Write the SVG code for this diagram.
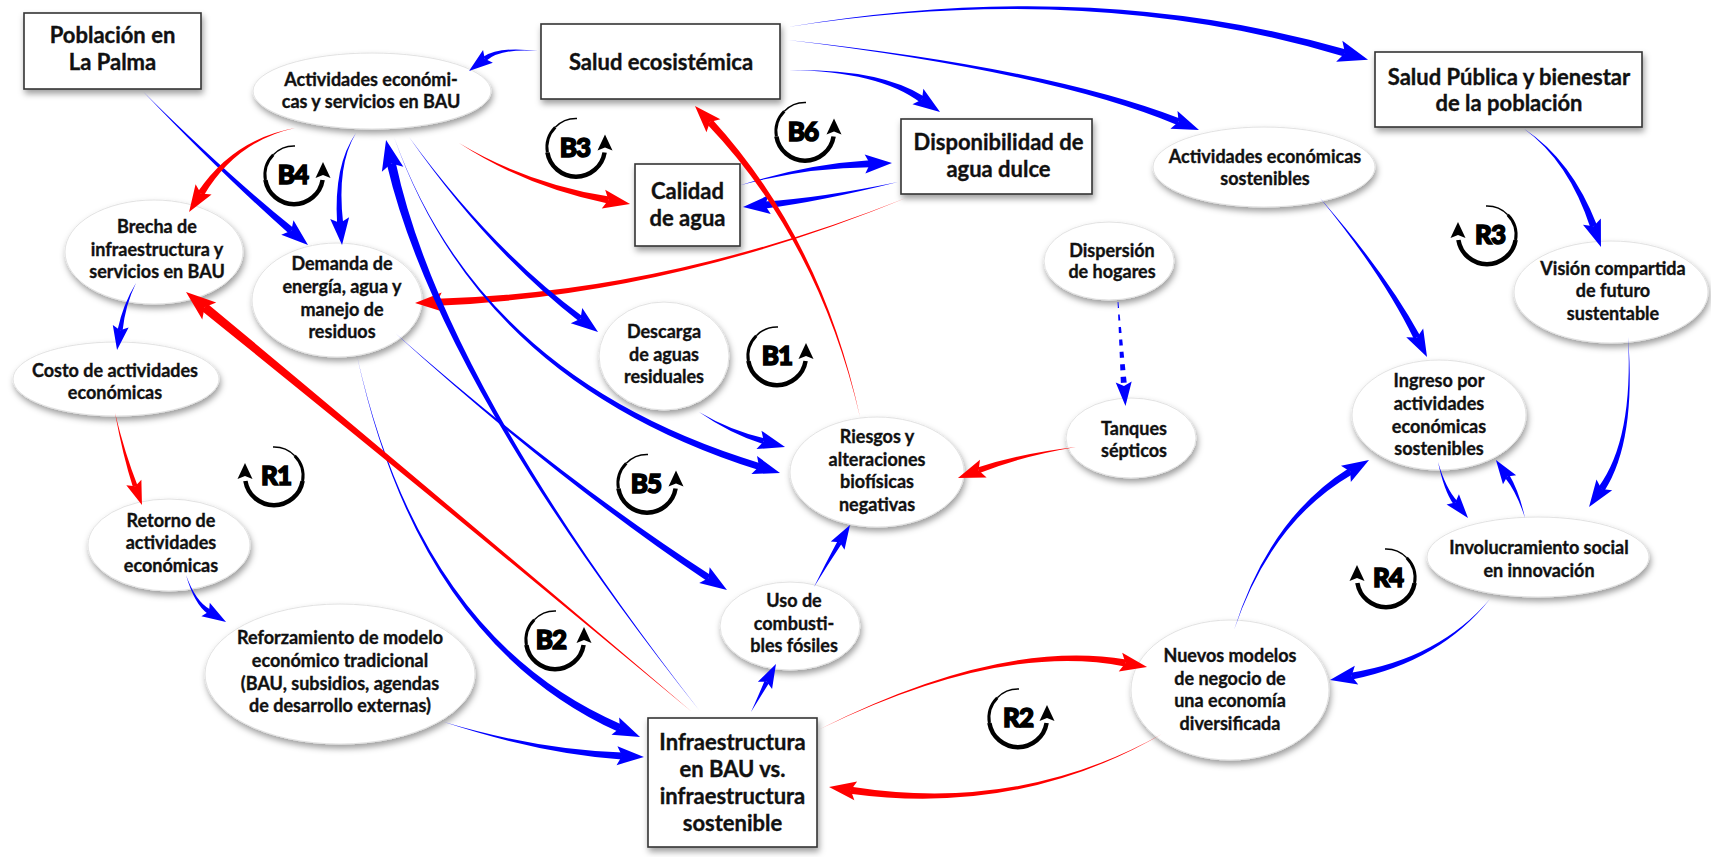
<svg xmlns="http://www.w3.org/2000/svg" width="1711" height="857" viewBox="0 0 1711 857">
<defs>
<style>
.ell{fill:#fff;stroke:#e2e2e2;stroke-width:1;filter:url(#sh)}
.box{fill:#fff;stroke:#333;stroke-width:1.6;filter:url(#sh)}
text{font-family:Lato,"Noto Sans","Liberation Sans",sans-serif;font-weight:700;fill:#111;text-anchor:middle;stroke:#111;stroke-width:0.35px}
.t{font-size:18px}
.tb{font-size:22px}
.lbl{font-size:26px;font-weight:900;letter-spacing:-1px;fill:#000;stroke:#000;stroke-width:1.5px}
.b{fill:#0000ff}
.r{fill:#ff0000}
.m{fill:none;stroke:none}
.lp{fill:none;stroke:#000}
</style>
<filter id="sh" x="-20%" y="-20%" width="140%" height="160%">
<feDropShadow dx="1.5" dy="4" stdDeviation="3" flood-color="#000" flood-opacity="0.38"/>
</filter>
<marker id="bM" viewBox="-6 -10 28 20" markerWidth="28" markerHeight="20" refX="0" refY="0" orient="auto" markerUnits="userSpaceOnUse"><path d="M0,0 L-4,-8 L20,0 L-4,8 Z" fill="#0000ff"/></marker>
<marker id="bL" viewBox="-6 -11 30 22" markerWidth="30" markerHeight="22" refX="0" refY="0" orient="auto" markerUnits="userSpaceOnUse"><path d="M0,0 L-5,-9.5 L22,0 L-5,9.5 Z" fill="#0000ff"/></marker>
<marker id="bX" viewBox="-7 -12 32 24" markerWidth="32" markerHeight="24" refX="0" refY="0" orient="auto" markerUnits="userSpaceOnUse"><path d="M0,0 L-6,-11 L24,0 L-6,11 Z" fill="#0000ff"/></marker>
<marker id="rM" viewBox="-6 -10 28 20" markerWidth="28" markerHeight="20" refX="0" refY="0" orient="auto" markerUnits="userSpaceOnUse"><path d="M0,0 L-4,-8 L20,0 L-4,8 Z" fill="#ff0000"/></marker>
<marker id="rL" viewBox="-6 -11 30 22" markerWidth="30" markerHeight="22" refX="0" refY="0" orient="auto" markerUnits="userSpaceOnUse"><path d="M0,0 L-5,-9.5 L22,0 L-5,9.5 Z" fill="#ff0000"/></marker>
<marker id="rX" viewBox="-7 -12 32 24" markerWidth="32" markerHeight="24" refX="0" refY="0" orient="auto" markerUnits="userSpaceOnUse"><path d="M0,0 L-6,-11 L24,0 L-6,11 Z" fill="#ff0000"/></marker>
<mask id="dm" maskUnits="userSpaceOnUse" x="1100" y="295" width="40" height="100">
<path d="M1118,302 L1124,386" stroke="#fff" stroke-width="14" stroke-dasharray="6 6.5" fill="none"/>
</mask>
<g id="lpB">
<path class="lp" stroke-width="1.5" d="M1,-29 A29,29 0 0 0 -20.7,-20.3"/>
<path class="lp" stroke-width="3" d="M-20.7,-20.3 A29,29 0 0 0 -28.6,5"/>
<path class="lp" stroke-width="4.5" d="M-28.6,5 A29,29 0 0 0 28.6,5"/>
<path d="M29,-13 L36.5,3 L29,0 L21.5,3 Z" fill="#000"/>
</g>
</defs>
<rect width="1711" height="857" fill="#fff"/>

<g id="nodes">
<g id="n-poblacion"><rect class="box" x="24" y="13" width="177" height="76"/><text class="tb" x="112.5" y="43">Población en</text><text class="tb" x="112.5" y="70">La Palma</text></g>
<g id="n-actbau"><ellipse class="ell" cx="372" cy="91" rx="119" ry="38"/><text class="t" x="371" y="86">Actividades económi-</text><text class="t" x="371" y="108">cas y servicios en BAU</text></g>
<g id="n-salud"><rect class="box" x="541" y="24" width="239" height="75"/><text class="tb" x="661" y="70">Salud ecosistémica</text></g>
<g id="n-disponibilidad"><rect class="box" x="901" y="119" width="191" height="75"/><text class="tb" x="998.5" y="150">Disponibilidad de</text><text class="tb" x="998.5" y="177">agua dulce</text></g>
<g id="n-calidad"><rect class="box" x="635" y="164" width="105" height="82"/><text class="tb" x="687.5" y="199">Calidad</text><text class="tb" x="687.5" y="226">de agua</text></g>
<g id="n-saludpublica"><rect class="box" x="1375" y="52" width="267" height="75"/><text class="tb" x="1509" y="85">Salud Pública y bienestar</text><text class="tb" x="1509" y="111">de la población</text></g>
<g id="n-actsost"><ellipse class="ell" cx="1264" cy="167" rx="111" ry="40"/><text class="t" x="1265" y="163">Actividades económicas</text><text class="t" x="1265" y="185">sostenibles</text></g>
<g id="n-vision"><ellipse class="ell" cx="1611" cy="292" rx="97" ry="51"/><text class="t" x="1613" y="275">Visión compartida</text><text class="t" x="1613" y="297">de futuro</text><text class="t" x="1613" y="320">sustentable</text></g>
<g id="n-brecha"><ellipse class="ell" cx="154" cy="252" rx="89" ry="52"/><text class="t" x="157" y="233">Brecha de</text><text class="t" x="157" y="256">infraestructura y</text><text class="t" x="157" y="278">servicios en BAU</text></g>
<g id="n-demanda"><ellipse class="ell" cx="337" cy="300" rx="85" ry="57"/><text class="t" x="342" y="270">Demanda de</text><text class="t" x="342" y="293">energía, agua y</text><text class="t" x="342" y="316">manejo de</text><text class="t" x="342" y="338">residuos</text></g>
<g id="n-costo"><ellipse class="ell" cx="116" cy="379" rx="103" ry="37"/><text class="t" x="115" y="377">Costo de actividades</text><text class="t" x="115" y="399">económicas</text></g>
<g id="n-retorno"><ellipse class="ell" cx="169" cy="545" rx="81" ry="46"/><text class="t" x="171" y="527">Retorno de</text><text class="t" x="171" y="549">actividades</text><text class="t" x="171" y="572">económicas</text></g>
<g id="n-reforzamiento"><ellipse class="ell" cx="340" cy="674" rx="135" ry="70"/><text class="t" x="340" y="644">Reforzamiento de modelo</text><text class="t" x="340" y="667">económico tradicional</text><text class="t" x="340" y="690">(BAU, subsidios, agendas</text><text class="t" x="340" y="712">de desarrollo externas)</text></g>
<g id="n-descarga"><ellipse class="ell" cx="664" cy="356" rx="65" ry="54"/><text class="t" x="664" y="338">Descarga</text><text class="t" x="664" y="361">de aguas</text><text class="t" x="664" y="383">residuales</text></g>
<g id="n-riesgos"><ellipse class="ell" cx="877" cy="472" rx="87" ry="55"/><text class="t" x="877" y="443">Riesgos y</text><text class="t" x="877" y="466">alteraciones</text><text class="t" x="877" y="488">biofísicas</text><text class="t" x="877" y="511">negativas</text></g>
<g id="n-dispersion"><ellipse class="ell" cx="1109" cy="261" rx="65" ry="39"/><text class="t" x="1112" y="257">Dispersión</text><text class="t" x="1112" y="278">de hogares</text></g>
<g id="n-tanques"><ellipse class="ell" cx="1131" cy="438" rx="65" ry="40"/><text class="t" x="1134" y="435">Tanques</text><text class="t" x="1134" y="457">sépticos</text></g>
<g id="n-ingreso"><ellipse class="ell" cx="1439" cy="415" rx="87" ry="55"/><text class="t" x="1439" y="387">Ingreso por</text><text class="t" x="1439" y="410">actividades</text><text class="t" x="1439" y="433">económicas</text><text class="t" x="1439" y="455">sostenibles</text></g>
<g id="n-involucramiento"><ellipse class="ell" cx="1538" cy="557" rx="111" ry="40"/><text class="t" x="1539" y="554">Involucramiento social</text><text class="t" x="1539" y="577">en innovación</text></g>
<g id="n-nuevos"><ellipse class="ell" cx="1230" cy="690" rx="99" ry="70"/><text class="t" x="1230" y="662">Nuevos modelos</text><text class="t" x="1230" y="685">de negocio de</text><text class="t" x="1230" y="707">una economía</text><text class="t" x="1230" y="730">diversificada</text></g>
<g id="n-uso"><ellipse class="ell" cx="790" cy="626" rx="70" ry="44"/><text class="t" x="794" y="607">Uso de</text><text class="t" x="794" y="630">combusti-</text><text class="t" x="794" y="652">bles fósiles</text></g>
<g id="n-infra"><rect class="box" x="648" y="718" width="169" height="129"/><text class="tb" x="732.5" y="750">Infraestructura</text><text class="tb" x="732.5" y="777">en BAU vs.</text><text class="tb" x="732.5" y="804">infraestructura</text><text class="tb" x="732.5" y="831">sostenible</text></g>
</g>

<g id="connectors">
<path class="b" d="M538,51 Q499.2,46 483.3,56.8 L486.3,60.8 Q500.8,48 538,51 Z"/><path class="m" d="M500,47 L484.8,58.8" marker-end="url(#bM)"/>
<path class="b" d="M788,27 Q1089.5,-20.3 1344,56.4 L1346,49.6 Q1090.5,-23.7 788,27 Z"/><path class="m" d="M1090,-22 L1345,53" marker-end="url(#bX)"/>
<path class="b" d="M788,40 Q1049.3,71.6 1177.3,125 L1179.9,118.6 Q1050.7,68.4 788,40 Z"/><path class="m" d="M1050,70 L1178.6,121.8" marker-end="url(#bL)"/>
<path class="b" d="M789,70 Q879,71.4 920,102.3 L924,96.5 Q881,68.6 789,70 Z"/><path class="m" d="M880,70 L922,99.4" marker-end="url(#bL)"/>
<path class="b" d="M741,185 Q806.1,167.7 870.1,167.3 L869.9,160.3 Q805.9,164.3 741,185 Z"/><path class="m" d="M806,166 L870,163.8" marker-end="url(#bL)"/>
<path class="b" d="M898,182 Q818.8,198.3 764.6,201.5 L765.2,208.5 Q819.2,201.7 898,182 Z"/><path class="m" d="M819,200 L764.9,205" marker-end="url(#bL)"/>
<path class="r" d="M459,143 Q525.7,186.7 607.8,203.4 L609,196.6 Q526.3,183.3 459,143 Z"/><path class="m" d="M526,185 L608.4,200" marker-end="url(#rL)"/>
<path class="r" d="M860,417 Q821.3,238.8 712.6,119.7 L707.4,124.5 Q818.7,241.2 860,417 Z"/><path class="m" d="M820,240 L710,122.1" marker-end="url(#rL)"/>
<path class="r" d="M906,198 Q667.9,292.3 436.9,298.7 L437.1,305.7 Q668.1,295.7 906,198 Z"/><path class="m" d="M668,294 L437,302.2" marker-end="url(#rL)"/>
<path class="b" d="M143.5,92 Q223.9,176.3 288.9,233.5 L293.5,228.1 Q226.1,173.7 143.5,92 Z"/><path class="m" d="M225,175 L291.2,230.8" marker-end="url(#bL)"/>
<path class="r" d="M295,128 Q233.5,139.1 198,191.6 L203.8,195.4 Q236.5,140.9 295,128 Z"/><path class="m" d="M235,140 L200.9,193.5" marker-end="url(#rL)"/>
<path class="b" d="M356,133 Q333.5,165.1 337.1,223.4 L343.1,222.8 Q336.5,164.9 356,133 Z"/><path class="m" d="M335,165 L340.1,223.1" marker-end="url(#bL)"/>
<path class="b" d="M699,710 Q442.2,379.5 395.7,162.4 L386.9,164.4 Q437.8,380.5 699,710 Z"/><path class="m" d="M440,380 L391.3,163.4" marker-end="url(#bX)"/>
<path class="b" d="M394,137 Q479.5,381.7 758,469.8 L760,463.2 Q480.5,378.3 394,137 Z"/><path class="m" d="M480,380 L759,466.5" marker-end="url(#bL)"/>
<path class="b" d="M409,137 Q489.1,251.2 578.7,321.1 L582.3,316.3 Q490.9,248.8 409,137 Z"/><path class="m" d="M490,250 L580.5,318.7" marker-end="url(#bL)"/>
<path class="b" d="M699,412 Q729.6,433.4 763,444.1 L764.6,438.3 Q730.4,430.6 699,412 Z"/><path class="m" d="M730,432 L763.8,441.2" marker-end="url(#bL)"/>
<path class="b" d="M395,333 Q559,481.5 706.7,580.8 L710.5,575 Q561,478.5 395,333 Z"/><path class="m" d="M560,480 L708.6,577.9" marker-end="url(#bL)"/>
<path class="b" d="M357,356 Q419.2,641.8 618.3,731.8 L621.5,724.4 Q420.8,638.2 357,356 Z"/><path class="m" d="M420,640 L619.9,728.1" marker-end="url(#bL)"/>
<path class="b" d="M444,722 Q540,753.7 621.8,759.4 L622.2,752.4 Q540,750.3 444,722 Z"/><path class="m" d="M540,752 L622,755.9" marker-end="url(#bL)"/>
<path class="r" d="M692,712 Q441.4,498.3 207.5,303.7 L201.7,310.7 Q438.6,501.7 692,712 Z"/><path class="m" d="M440,500 L204.6,307.2" marker-end="url(#rX)"/>
<path class="b" d="M136,283 Q122.8,304.8 117.6,329.8 L122.6,330.6 Q125.2,305.2 136,283 Z"/><path class="m" d="M124,305 L120.1,330.2" marker-end="url(#bM)"/>
<path class="r" d="M115,413 Q122.8,455.4 132.9,487.1 L137.5,485.4 Q125.2,454.6 115,413 Z"/><path class="m" d="M124,455 L135.2,486.2" marker-end="url(#rM)"/>
<path class="b" d="M186,575 Q194.3,604.1 207.7,613.7 L210.3,609.5 Q195.7,601.9 186,575 Z"/><path class="m" d="M195,603 L209,611.6" marker-end="url(#bM)"/>
<path class="b" d="M751,712 Q761.1,695.6 769,682.9 L764.6,680.7 Q758.9,694.4 751,712 Z"/><path class="m" d="M760,695 L766.8,681.8" marker-end="url(#bM)"/>
<path class="b" d="M814,587 Q827.1,565.6 841.8,543.5 L837.6,540.9 Q824.9,564.4 814,587 Z"/><path class="m" d="M826,565 L839.7,542.2" marker-end="url(#bM)"/>
<path class="r" d="M1076,447 Q1019.5,453.6 977.6,467.5 L979.6,473.1 Q1020.5,456.4 1076,447 Z"/><path class="m" d="M1020,455 L978.6,470.3" marker-end="url(#rL)"/>
<path class="b" mask="url(#dm)" d="M1117.6,302 L1121,386.2 L1127,385.8 L1118.4,302 Z"/><path class="m" d="M1123.4,378 L1124,386" marker-end="url(#bM)"/>
<path class="b" d="M1320,198 Q1383.4,275.8 1413.9,339 L1420.1,335.8 Q1386.6,274.2 1320,198 Z"/><path class="m" d="M1385,275 L1417,337.4" marker-end="url(#bL)"/>
<path class="b" d="M1523,128 Q1568.4,160.6 1590.3,227.5 L1596.9,225.1 Q1571.6,159.4 1523,128 Z"/><path class="m" d="M1570,160 L1593.6,226.3" marker-end="url(#bL)"/>
<path class="b" d="M1628,337 Q1633.6,439 1598.6,486.9 L1604.4,490.9 Q1636.4,441 1628,337 Z"/><path class="m" d="M1635,440 L1601.5,488.9" marker-end="url(#bL)"/>
<path class="b" d="M1438,462 Q1444,490.8 1453.4,504.1 L1457.2,500.9 Q1446,489.2 1438,462 Z"/><path class="m" d="M1445,490 L1455.3,502.5" marker-end="url(#bM)"/>
<path class="b" d="M1525,518 Q1519,491.3 1509.4,475.1 L1505.2,477.9 Q1517,492.7 1525,518 Z"/><path class="m" d="M1518,492 L1507.3,476.5" marker-end="url(#bM)"/>
<path class="b" d="M1490,599 Q1439.7,658.3 1351,672.7 L1352.2,679.5 Q1440.3,661.7 1490,599 Z"/><path class="m" d="M1440,660 L1351.6,676.1" marker-end="url(#bL)"/>
<path class="b" d="M1234,630 Q1270.9,521.5 1352,474.4 L1348.4,468.4 Q1269.1,518.5 1234,630 Z"/><path class="m" d="M1270,520 L1350.2,471.4" marker-end="url(#bL)"/>
<path class="r" d="M820,729 Q999.7,641.7 1124.8,666.4 L1126,659.6 Q1000.3,638.3 820,729 Z"/><path class="m" d="M1000,640 L1125.4,663" marker-end="url(#rL)"/>
<path class="r" d="M1162,734 Q1020.3,813.3 851.3,786.7 L850.3,793.7 Q1019.7,816.7 1162,734 Z"/><path class="m" d="M1020,815 L850.8,790.2" marker-end="url(#rL)"/>
</g>

<g id="loops">
<use href="#lpB" transform="translate(294,175)"/><text class="lbl" x="293" y="184">B4</text>
<use href="#lpB" transform="translate(576,147.5)"/><text class="lbl" x="575" y="157">B3</text>
<use href="#lpB" transform="translate(805,131.5)"/><text class="lbl" x="803" y="141">B6</text>
<use href="#lpB" transform="translate(777,356)"/><text class="lbl" x="777" y="365">B1</text>
<use href="#lpB" transform="translate(647,483.5)"/><text class="lbl" x="646" y="493">B5</text>
<use href="#lpB" transform="translate(555,640)"/><text class="lbl" x="551" y="649">B2</text>
<use href="#lpB" transform="translate(274,476) scale(-1,1)"/><text class="lbl" x="276" y="485">R1</text>
<use href="#lpB" transform="translate(1018,718)"/><text class="lbl" x="1018" y="727">R2</text>
<use href="#lpB" transform="translate(1487,235) scale(-1,1)"/><text class="lbl" x="1490" y="244">R3</text>
<use href="#lpB" transform="translate(1386,578) scale(-1,1)"/><text class="lbl" x="1388" y="587">R4</text>
</g>
</svg>
